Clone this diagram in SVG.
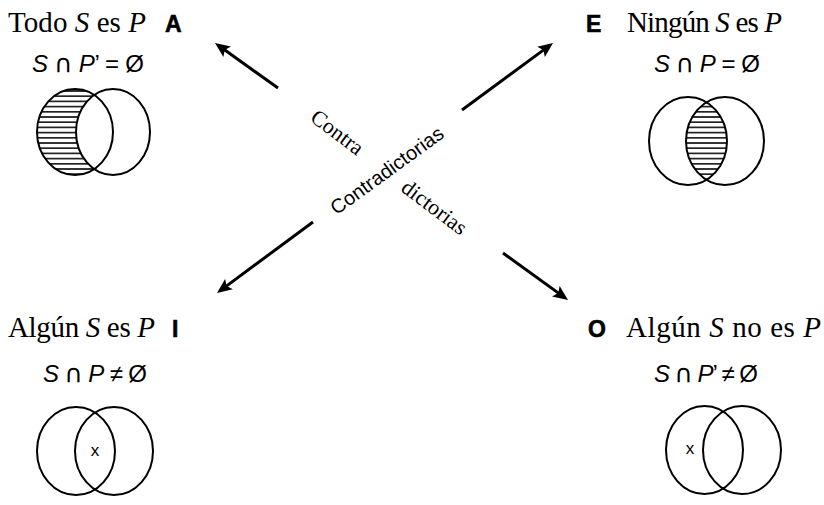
<svg xmlns="http://www.w3.org/2000/svg" width="824" height="505" viewBox="0 0 824 505">
<style>
.ttl{font-family:"Liberation Serif","Times New Roman",serif;font-size:29px;fill:#000}
.it{font-style:italic}
.let{font-family:"Liberation Sans",Arial,sans-serif;font-size:23px;font-weight:bold;fill:#000;stroke:#000;stroke-width:0.6}
.frm{font-family:"Liberation Sans",Arial,sans-serif;font-size:24px;fill:#000}
.cap{font-family:"DejaVu Sans",sans-serif;font-size:25px}
.mk{font-family:"Liberation Sans",Arial,sans-serif;font-size:17px;fill:#000}
.lbl{font-family:"Liberation Serif","Times New Roman",serif;font-size:22px;fill:#000}
.lbs{font-family:"Liberation Sans",Arial,sans-serif;font-size:20px;fill:#000}
.c{fill:none;stroke:#000;stroke-width:2}
.arr{stroke:#000;stroke-width:3;fill:none;marker-end:url(#ah)}
</style>
<defs>
<pattern id="hatch" patternUnits="userSpaceOnUse" width="10" height="5.2">
<line x1="0" y1="2.6" x2="10" y2="2.6" stroke="#000" stroke-width="1.5"/>
</pattern>
<marker id="ah" markerUnits="userSpaceOnUse" markerWidth="16" markerHeight="14" refX="5" refY="7" orient="auto">
<path d="M0,0.5 L15,7 L0,13.5 L3,7 z" fill="#000"/>
</marker>
<clipPath id="clipE"><ellipse cx="688" cy="141" rx="39" ry="44"/></clipPath>
</defs>
<rect width="824" height="505" fill="#fff"/>

<g id="nodeA">
<text class="ttl" x="8" y="32" textLength="138" lengthAdjust="spacing">Todo <tspan class="it">S</tspan> es <tspan class="it">P</tspan></text>
<text class="let" x="165" y="32">A</text>
<text class="frm" x="32" y="72" textLength="112" lengthAdjust="spacing"><tspan class="it">S</tspan> <tspan class="cap">∩</tspan> <tspan class="it">P</tspan>’ = Ø</text>
<ellipse cx="75" cy="132" rx="38" ry="43" fill="url(#hatch)"/>
<ellipse cx="113" cy="132" rx="37" ry="43" fill="#fff"/>
<ellipse class="c" cx="75" cy="132" rx="38" ry="43"/>
<ellipse class="c" cx="113" cy="132" rx="37" ry="43"/>
</g>

<g id="nodeE">
<text class="let" x="586" y="32">E</text>
<text class="ttl" x="627" y="32" textLength="155" lengthAdjust="spacing">Ningún <tspan class="it">S</tspan> es <tspan class="it">P</tspan></text>
<text class="frm" x="654" y="72" textLength="106" lengthAdjust="spacing"><tspan class="it">S</tspan> <tspan class="cap">∩</tspan> <tspan class="it">P</tspan> = Ø</text>
<ellipse cx="725" cy="141" rx="39" ry="44" fill="url(#hatch)" clip-path="url(#clipE)"/>
<ellipse class="c" cx="688" cy="141" rx="39" ry="44"/>
<ellipse class="c" cx="725" cy="141" rx="39" ry="44"/>
</g>

<g id="nodeI">
<text class="ttl" x="8" y="337" textLength="147" lengthAdjust="spacing">Algún <tspan class="it">S</tspan> es <tspan class="it">P</tspan></text>
<text class="let" x="172" y="337">I</text>
<text class="frm" x="43" y="382" textLength="104" lengthAdjust="spacing"><tspan class="it">S</tspan> <tspan class="cap">∩</tspan> <tspan class="it">P</tspan> ≠ Ø</text>
<ellipse class="c" cx="76" cy="451" rx="39" ry="44"/>
<ellipse class="c" cx="114" cy="451" rx="39" ry="44"/>
<text class="mk" x="95" y="456" text-anchor="middle">x</text>
</g>

<g id="nodeO">
<text class="let" x="588" y="337">O</text>
<text class="ttl" x="626" y="337" textLength="195" lengthAdjust="spacing">Algún <tspan class="it">S</tspan> no es <tspan class="it">P</tspan></text>
<text class="frm" x="654" y="382" textLength="104" lengthAdjust="spacing"><tspan class="it">S</tspan> <tspan class="cap">∩</tspan> <tspan class="it">P</tspan>’ ≠ Ø</text>
<ellipse class="c" cx="704.5" cy="450" rx="38.5" ry="44"/>
<ellipse class="c" cx="742" cy="450" rx="39" ry="44"/>
<text class="mk" x="690" y="454" text-anchor="middle">x</text>
</g>

<g id="connectors">
<line class="arr" x1="278" y1="88" x2="223.1" y2="48.8"/>
<line class="arr" x1="462" y1="110" x2="545" y2="48.9"/>
<line class="arr" x1="313" y1="222" x2="225" y2="287.1"/>
<line class="arr" x1="503" y1="253" x2="559.9" y2="294.1"/>
<text class="lbl" transform="translate(333,138) rotate(37)" text-anchor="middle">Contra</text>
<text class="lbl" transform="translate(430,213) rotate(37)" text-anchor="middle">dictorias</text>
<text class="lbs" transform="translate(391,176) rotate(-36)" text-anchor="middle">Contradictorias</text>
</g>
</svg>
